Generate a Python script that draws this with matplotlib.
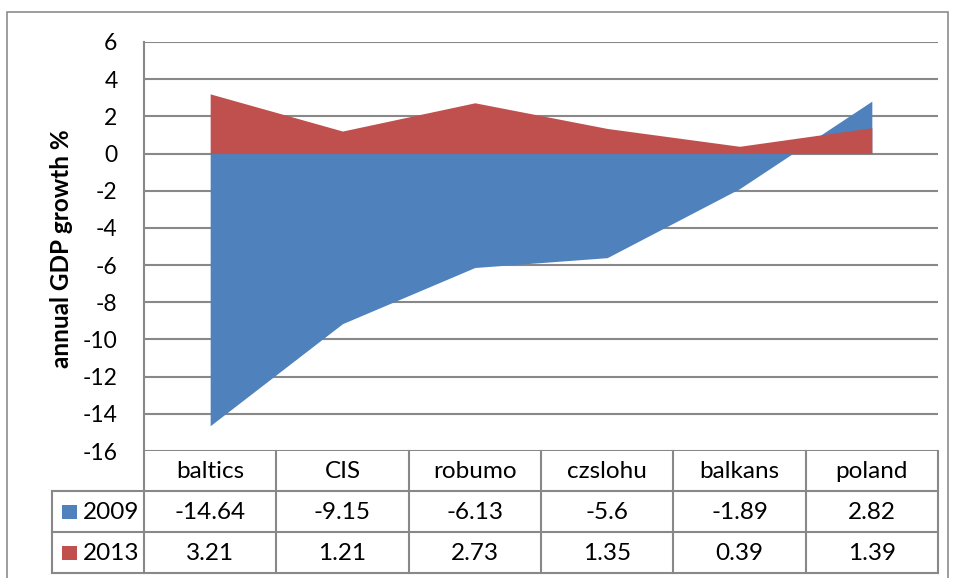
import matplotlib
matplotlib.use("Agg")
import matplotlib.pyplot as plt
from matplotlib.lines import Line2D
from matplotlib.patches import Rectangle

categories = ["baltics", "CIS", "robumo", "czslohu", "balkans", "poland"]
series_names = ["2009", "2013"]
values_2009 = [-14.64, -9.15, -6.13, -5.6, -1.89, 2.82]
values_2013 = [3.21, 1.21, 2.73, 1.35, 0.39, 1.39]
yticks = [6, 4, 2, 0, -2, -4, -6, -8, -10, -12, -14, -16]

BLUE = "#4F81BD"
RED = "#C0504D"
GRID = "#888888"

W, H = 954, 578
plt.rcParams['font.family'] = ['Lato', 'DejaVu Sans']

fig = plt.figure(figsize=(W / 100, H / 100), dpi=100)

def fx(px):
    return px / W

def fy(py):
    return 1 - py / H

L, R, T, B = 144, 938, 42, 451
ax = fig.add_axes([fx(L), fy(B), fx(R) - fx(L), fy(T) - fy(B)])
x = list(range(len(categories)))
ax.fill_between(x, 0, values_2009, color=BLUE, linewidth=0, zorder=2)
ax.fill_between(x, 0, values_2013, color=RED, linewidth=0, zorder=3)
ax.set_xlim(-0.5, len(categories) - 0.5)
ax.set_ylim(min(yticks), max(yticks))
ax.set_yticks(yticks)
ax.set_yticklabels([str(v) for v in yticks], fontsize=16.5)
ax.set_xticks([])
ax.tick_params(axis='y', length=0, pad=19)
for s in ax.spines.values():
    s.set_visible(False)
for v in yticks:
    ax.axhline(v, color=GRID, linewidth=1.5, zorder=1)
ax.set_ylabel("annual GDP growth %", fontsize=17.5, fontweight='bold')
ax.yaxis.set_label_coords(-0.09, 0.495)

def hline(y, x0, x1):
    fig.add_artist(Line2D([fx(x0), fx(x1)], [fy(y), fy(y)], color=GRID, linewidth=1.5))

def vline(xp, y0, y1):
    fig.add_artist(Line2D([fx(xp), fx(xp)], [fy(y0), fy(y1)], color=GRID, linewidth=1.5))

# outer chart border
fig.add_artist(Rectangle((fx(7), fy(590)), fx(948) - fx(7), fy(12) - fy(590),
                         fill=False, edgecolor="#8C8C8C", linewidth=1.2))

# data table
rows_y = [451, 491, 532, 573]
LEG = 52
colw = (R - L) / len(categories)
hline(rows_y[1], LEG, R)
hline(rows_y[2], LEG, R)
hline(rows_y[3], LEG, R)
vline(L, T, rows_y[3])
vline(LEG, rows_y[1], rows_y[3])
for k in range(1, len(categories) + 1):
    vline(L + k * colw, rows_y[0], rows_y[3])

fs = 17.5
for i, c in enumerate(categories):
    fig.text(fx(L + (i + 0.5) * colw), fy((rows_y[0] + rows_y[1]) / 2 + 1), c,
             ha='center', va='center', fontsize=fs)
for r, (name, vals, col) in enumerate([(series_names[0], values_2009, BLUE),
                                       (series_names[1], values_2013, RED)]):
    yc = (rows_y[r + 1] + rows_y[r + 2]) / 2
    fig.add_artist(Rectangle((fx(62), fy(yc + 7)), fx(77) - fx(62), fy(yc - 7) - fy(yc + 7),
                             facecolor=col, edgecolor='none'))
    fig.text(fx(83), fy(yc + 1), name, ha='left', va='center', fontsize=fs)
    for i, v in enumerate(vals):
        fig.text(fx(L + (i + 0.5) * colw), fy(yc + 1), f"{v:g}",
                 ha='center', va='center', fontsize=fs)

fig.savefig("out.png", dpi=100)
